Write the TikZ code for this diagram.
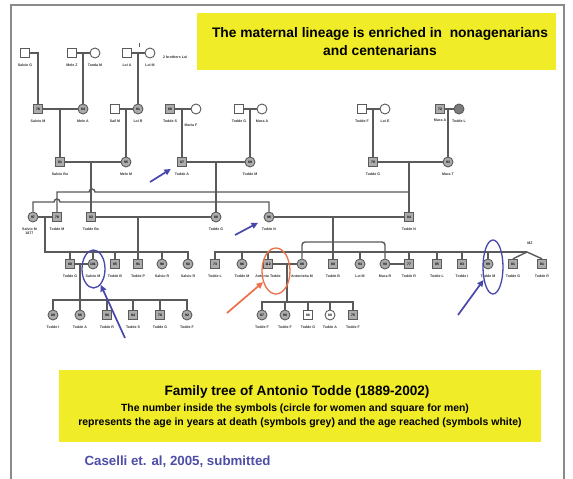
\documentclass[tikz,border=0pt]{standalone}
\usepackage{fontspec}
\setmainfont{Liberation Sans}
\usetikzlibrary{arrows.meta,shapes.geometric}
\definecolor{framegray}{RGB}{138,138,138}
\definecolor{kin}{RGB}{90,90,90}
\definecolor{dead}{RGB}{172,172,172}
\definecolor{hilite}{RGB}{240,236,40}
\definecolor{markblue}{RGB}{72,72,172}
\definecolor{markorange}{RGB}{238,112,72}
\definecolor{citeblue}{RGB}{78,78,168}
\begin{document}
\begin{tikzpicture}[x=1pt, y=-1pt, label distance=5pt,
  kinline/.style={draw=kin, line width=1.4pt},
  male/.style={rectangle, draw=kin, fill=dead, line width=0.9pt, minimum size=9.5pt,
    inner sep=0pt, font=\fontsize{3.4}{3.4}\selectfont\bfseries},
  female/.style={circle, draw=kin, fill=dead, line width=0.9pt, minimum size=10pt,
    inner sep=0pt, font=\fontsize{3.4}{3.4}\selectfont\bfseries},
  living/.style={fill=white},
  nm/.style={font=\fontsize{3.6}{4}\selectfont\bfseries, inner sep=0pt, text=black!80},
  ring/.style={ellipse, draw, line width=1.3pt, inner sep=0pt},
  pointer/.style={line width=1.7pt, -{Triangle[length=6.5pt,width=6pt]}},
  banner/.style={fill=hilite, inner sep=0pt}]

% page and frame
\useasboundingbox[fill=white] (0,0) rectangle (573,479);
\draw[framegray, line width=2pt] (11,479) -- (11,5) -- (564,5) -- (564,479);

% headline banner
\node[banner, minimum width=359pt, minimum height=57pt] (topbox) at (376.5,41.5) {};
\node[font=\fontsize{13.8}{18}\selectfont\bfseries, align=center] (toptext) at (380,42)
  {The maternal lineage is enriched in\ \ nonagenarians\\and centenarians};

% ---------- generation I ----------
\node[male, living, label={[nm]below:Salvio G}] (I1) at (25,53) {};
\node[male, living, label={[nm]below:Mele Z}] (I2) at (72,53) {};
\node[female, living, label={[nm]below:Tanda M}] (I3) at (95,53) {};
\node[male, living, label={[nm]below:Loi A}] (I4) at (127,53) {};
\node[female, living, label={[nm]below:Loi M}] (I5) at (150,53) {};
\node[nm, anchor=west] (brothers) at (163,57) {2 brothers Loi};

% ---------- generation II ----------
\node[male, label={[nm]below:Salvio M}] (II1) at (38,109) {76};
\node[female, label={[nm]below:Mele A}] (II2) at (83,109) {84};
\node[male, living, label={[nm]below:Sail M}] (II3) at (115,109) {};
\node[female, label={[nm]below:Loi R}] (II4) at (138,109) {91};
\node[male, label={[nm]below:Todde S}] (II5) at (170,109) {68};
\node[female, living, label={[nm, xshift=-5pt, yshift=-4pt]below:Maria F}] (II6) at (196,109) {};
\node[male, living, label={[nm]below:Todde G}] (II7) at (239,109) {};
\node[female, living, label={[nm]below:Mura A}] (II8) at (262,109) {};
\node[male, living, label={[nm]below:Todde F}] (II9) at (362,109) {};
\node[female, living, label={[nm]below:Loi E}] (II10) at (385,109) {};
\node[male, label={[nm]below:Mura A}] (II11) at (440,109) {72};
\node[female, fill=kin!80, label={[nm]below:Todde L}] (II12) at (459,109) {};

% ---------- generation III ----------
\node[male, label={[nm]below:Salvio Bo}] (III1) at (60,162) {81};
\node[female, label={[nm]below:Mele M}] (III2) at (126,162) {95};
\node[male, label={[nm]below:Todde A}] (III3) at (182,162) {87};
\node[female, label={[nm]below:Todde M}] (III4) at (250,162) {89};
\node[male, label={[nm]below:Todde G}] (III5) at (373,162) {79};
\node[female, label={[nm]below:Mura T}] (III6) at (448,162) {93};

% ---------- generation IV ----------
\node[female, label={[nm, align=center, anchor=north east, xshift=4pt]below:Salvio M\\1877}] (IV1) at (33,217) {97};
\node[male, label={[nm]below:Todde M}] (IV2) at (57,217) {78};
\node[male, label={[nm]below:Todde Bo}] (IV3) at (91,217) {82};
\node[female, label={[nm]below:Todde G}] (IV4) at (216,217) {88};
\node[female, label={[nm]below:Todde N}] (IV5) at (269,217) {96};
\node[male, label={[nm]below:Todde N}] (IV6) at (409,217) {84};

% ---------- generation V ----------
\node[male, label={[nm]below:Todde G}] (V1) at (70,264) {80};
\node[female, label={[nm]below:Salvio M}] (V2) at (93,264) {101};
\node[male, label={[nm]below:Todde B}] (V3) at (115,264) {85};
\node[male, label={[nm]below:Todde P}] (V4) at (138,264) {91};
\node[female, label={[nm]below:Salvio R}] (V5) at (162,264) {90};
\node[female, label={[nm]below:Salvio R}] (V6) at (188,264) {92};
\node[male, label={[nm]below:Todde L}] (V7) at (215,264) {73};
\node[female, label={[nm]below:Todde M}] (V8) at (242,264) {86};
\node[male, label={[nm]below:Antonio Todde}] (V9) at (268,264) {112};
\node[female, label={[nm]below:Antonietta M}] (V10) at (302,264) {88};
\node[male, label={[nm]below:Todde B}] (V11) at (333,264) {80};
\node[female, label={[nm]below:Loi M}] (V12) at (360,264) {94};
\node[female, label={[nm]below:Mura R}] (V13) at (385,264) {90};
\node[male, label={[nm]below:Todde R}] (V14) at (409,264) {77};
\node[male, label={[nm]below:Todde L}] (V15) at (437,264) {85};
\node[male, label={[nm]below:Todde I}] (V16) at (462,264) {83};
\node[female, label={[nm]below:Todde M}] (V17) at (488,264) {99};
\node[male, label={[nm]below:Todde G}] (V18) at (513,264) {81};
\node[male, label={[nm]below:Todde R}] (V19) at (542,264) {81};
\node[nm] (twinmark) at (530,243) {MZ};

% ---------- generation VI ----------
\node[female, label={[nm]below:Todde I}] (VI1) at (53,315) {89};
\node[female, label={[nm]below:Todde A}] (VI2) at (80,315) {86};
\node[male, label={[nm]below:Todde R}] (VI3) at (107,315) {90};
\node[male, label={[nm]below:Todde S}] (VI4) at (133,315) {84};
\node[male, label={[nm]below:Todde G}] (VI5) at (160,315) {78};
\node[female, label={[nm]below:Todde F}] (VI6) at (187,315) {92};
\node[female, label={[nm]below:Todde F}] (VI7) at (262,315) {87};
\node[female, label={[nm]below:Todde F}] (VI8) at (285,315) {90};
\node[male, living, label={[nm]below:Todde G}] (VI9) at (308,315) {86};
\node[female, living, label={[nm]below:Todde A}] (VI10) at (330,315) {88};
\node[male, label={[nm]below:Todde F}] (VI11) at (353,315) {75};

% ---------- kinship lines ----------
% generation I to II
\draw[kinline] (I1.east) -| (II1.north);
\draw[kinline] (I2.east) -- (I3.west);
\draw[kinline] (II2.north) -- (II2.north |- I2);
\draw[kinline] (I4.east) -- (I5.west);
\draw[kinline] (II4.north) -- (II4.north |- I4);
\coordinate (twotick) at (139,43);
\draw[kinline, line width=0.7pt] (twotick) -- ++(0,4);

% generation II to III
\foreach \a/\b/\c in {II1/II2/III1, II3/II4/III2, II5/II6/III3, II7/II8/III4, II9/II10/III5, II11/II12/III6}{
  \draw[kinline] (\a.east) -- (\b.west);
  \draw[kinline] (\c.north) -- (\c.north |- \a);
}

% generation III to IV
\draw[kinline] (III1.east) -- (III2.west);
\draw[kinline] (III3.east) -- (III4.west);
\draw[kinline] (III5.east) -- (III6.west);
\draw[kinline] (IV3.north) -- (IV3.north |- III1);
\draw[kinline] (IV4.north) -- (IV4.north |- III3);
\draw[kinline] (IV6.north) -- (IV6.north |- III5);
\coordinate (rowA) at (57,192);
\coordinate (rowB) at (33,202);
\draw[kinline] (IV2.north) -- (rowA) -- (89,192) arc[start angle=180, end angle=360, radius=3]
  -- (IV6.north |- rowA);
\draw[kinline] (IV1.north) -- (rowB) -- (54,202) arc[start angle=180, end angle=360, radius=3]
  -- (IV5.north |- rowB) -- (IV5.north);

% generation IV to V
\draw[kinline] (IV1.east) -- (IV2.west);
\draw[kinline] (IV3.east) -- (IV4.west);
\draw[kinline] (IV5.east) -- (IV6.west);
\coordinate (sibL) at (45,252);
\draw[kinline] (sibL |- IV1) -- (sibL) -- (V6.north |- sibL) -- (V6.north);
\foreach \k in {V1, V2, V3, V5}{
  \draw[kinline] (\k.north |- sibL) -- (\k.north);
}
\draw[kinline] (V4.north) -- (V4.north |- IV3);
\coordinate (sibR) at (527,252);
\draw[kinline] (V11.north) -- (V11.north |- IV5);
\draw[kinline] (V7.north) -- (V7.north |- sibR) -- (sibR);
\foreach \k in {V8, V9, V12, V14, V15, V16, V17}{
  \draw[kinline] (\k.north |- sibR) -- (\k.north);
}
\draw[kinline] (sibR) -- (V18.north);
\draw[kinline] (sibR) -- (V19.north);
\coordinate (loop) at (302,242);
\draw[kinline, rounded corners=3pt] (V10.north) -- (loop) -- (V13.north |- loop) -- (V13.north);

% generation V to VI
\draw[kinline] (V1.east) -- (V2.west);
\draw[kinline] (V9.east) -- (V10.west);
\draw[kinline] (V13.east) -- (V14.west);
\coordinate (sibC) at (80,300);
\draw[kinline] (sibC |- V1) -- (sibC);
\draw[kinline] (VI1.north) -- (VI1.north |- sibC) -- (VI6.north |- sibC) -- (VI6.north);
\foreach \k in {VI2, VI3, VI4, VI5}{
  \draw[kinline] (\k.north |- sibC) -- (\k.north);
}
\coordinate (sibD) at (287,302);
\draw[kinline] (sibD |- V9) -- (sibD);
\draw[kinline] (VI7.north) -- (VI7.north |- sibD) -- (VI11.north |- sibD) -- (VI11.north);
\foreach \k in {VI8, VI9, VI10}{
  \draw[kinline] (\k.north |- sibD) -- (\k.north);
}

% ---------- highlights ----------
\node[ring, draw=markblue, minimum width=23pt, minimum height=38pt] (ringA) at (93.5,269) {};
\node[ring, draw=markorange, minimum width=28pt, minimum height=46pt] (ringB) at (276,271) {};
\node[ring, draw=markblue, minimum width=20pt, minimum height=54pt] (ringC) at (493,267) {};
\coordinate (pA) at (150,182);
\coordinate (pB) at (235,235);
\coordinate (pC) at (125,338);
\coordinate (pD) at (227,313);
\coordinate (pE) at (458,315);
\draw[pointer, markblue, shorten >=7pt] (pA) -- (III3);
\draw[pointer, markblue, shorten >=7pt] (pB) -- (IV5);
\draw[pointer, markblue] (pC) -- (ringA);
\draw[pointer, markorange] (pD) -- (ringB);
\draw[pointer, markblue] (pE) -- (ringC);

% ---------- caption ----------
\node[banner, minimum width=482pt, minimum height=72pt] (botbox) at (300,406) {};
\node[font=\fontsize{13.6}{15}\selectfont\bfseries] (title) at (297,392)
  {Family tree of Antonio Todde (1889-2002)};
\node[font=\fontsize{10.4}{12}\selectfont\bfseries] (noteA) at (295,409)
  {The number inside the symbols (circle for women and square for men)};
\node[font=\fontsize{10.5}{12}\selectfont\bfseries] (noteB) at (300,423)
  {represents the age in years at death (symbols grey) and the age reached (symbols white)};
\node[font=\fontsize{13.3}{15}\selectfont\bfseries, text=citeblue, anchor=west] (cite) at (81,462)
  {Caselli et. al, 2005, submitted};
\end{tikzpicture}
\end{document}
